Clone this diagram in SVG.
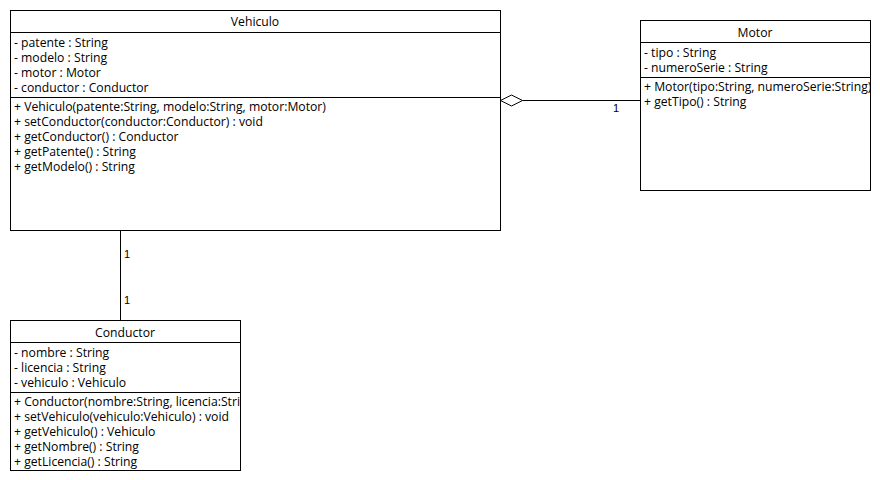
<svg xmlns="http://www.w3.org/2000/svg" width="880" height="480" viewBox="0 0 880 480">
  <style>
    .box { fill: #ffffff; stroke: #000000; stroke-width: 1; }
    .sep { stroke: #000000; stroke-width: 1; }
    .t { font-family: "Open Sans", "Noto Sans", sans-serif; font-size: 12.2px; fill: #000000; }
    .title { text-anchor: middle; }
    .mult { font-family: "Liberation Sans", Arial, sans-serif; font-size: 11px; fill: #000000; }
    .edge { fill: none; stroke: #000000; stroke-width: 1; }
  </style>
  <defs>
    <clipPath id="clipVehiculo"><rect x="10" y="10" width="490" height="220"/></clipPath>
    <clipPath id="clipMotor"><rect x="640" y="20" width="230" height="170"/></clipPath>
    <clipPath id="clipConductor"><rect x="10" y="320" width="230" height="150"/></clipPath>
  </defs>

  <rect width="880" height="480" fill="#ffffff"/>

  <g id="connectors">
    <!-- Vehiculo <>— Motor aggregation -->
    <path class="edge" d="M522.5 100.5 H640"/>
    <path class="edge" d="M500.5 100.5 L511.5 95 L522.5 100.5 L511.5 106 Z" fill="#ffffff"/>
    <text class="mult" x="613" y="112">1</text>
    <!-- Vehiculo — Conductor association -->
    <path class="edge" d="M120.5 230 V320"/>
    <text class="mult" x="124" y="258">1</text>
    <text class="mult" x="124" y="304">1</text>
  </g>

  <g id="Vehiculo">
    <rect class="box" x="10.5" y="10.5" width="490" height="220"/>
    <line class="sep" x1="10.5" y1="32.5" x2="500.5" y2="32.5"/>
    <line class="sep" x1="10.5" y1="97.5" x2="500.5" y2="97.5"/>
    <g clip-path="url(#clipVehiculo)">
      <text class="t title" x="255" y="26">Vehiculo</text>
      <text class="t" x="14" y="47">- patente : String</text>
      <text class="t" x="14" y="62">- modelo : String</text>
      <text class="t" x="14" y="77">- motor : Motor</text>
      <text class="t" x="14" y="92">- conductor : Conductor</text>
      <text class="t" x="14" y="111">+ Vehiculo(patente:String, modelo:String, motor:Motor)</text>
      <text class="t" x="14" y="126">+ setConductor(conductor:Conductor) : void</text>
      <text class="t" x="14" y="141">+ getConductor() : Conductor</text>
      <text class="t" x="14" y="156">+ getPatente() : String</text>
      <text class="t" x="14" y="171">+ getModelo() : String</text>
    </g>
  </g>

  <g id="Motor">
    <rect class="box" x="640.5" y="20.5" width="230" height="170"/>
    <line class="sep" x1="640.5" y1="42.5" x2="870.5" y2="42.5"/>
    <line class="sep" x1="640.5" y1="77.5" x2="870.5" y2="77.5"/>
    <g clip-path="url(#clipMotor)">
      <text class="t title" x="755" y="37">Motor</text>
      <text class="t" x="644" y="57">- tipo : String</text>
      <text class="t" x="644" y="72">- numeroSerie : String</text>
      <text class="t" x="644" y="91">+ Motor(tipo:String, numeroSerie:String)</text>
      <text class="t" x="644" y="106">+ getTipo() : String</text>
    </g>
  </g>

  <g id="Conductor">
    <rect class="box" x="10.5" y="320.5" width="230" height="150"/>
    <line class="sep" x1="10.5" y1="342.5" x2="240.5" y2="342.5"/>
    <line class="sep" x1="10.5" y1="392.5" x2="240.5" y2="392.5"/>
    <g clip-path="url(#clipConductor)">
      <text class="t title" x="125" y="337">Conductor</text>
      <text class="t" x="14" y="357">- nombre : String</text>
      <text class="t" x="14" y="372">- licencia : String</text>
      <text class="t" x="14" y="387">- vehiculo : Vehiculo</text>
      <text class="t" x="14" y="406">+ Conductor(nombre:String, licencia:String)</text>
      <text class="t" x="14" y="421">+ setVehiculo(vehiculo:Vehiculo) : void</text>
      <text class="t" x="14" y="436">+ getVehiculo() : Vehiculo</text>
      <text class="t" x="14" y="451">+ getNombre() : String</text>
      <text class="t" x="14" y="466">+ getLicencia() : String</text>
    </g>
  </g>
</svg>
